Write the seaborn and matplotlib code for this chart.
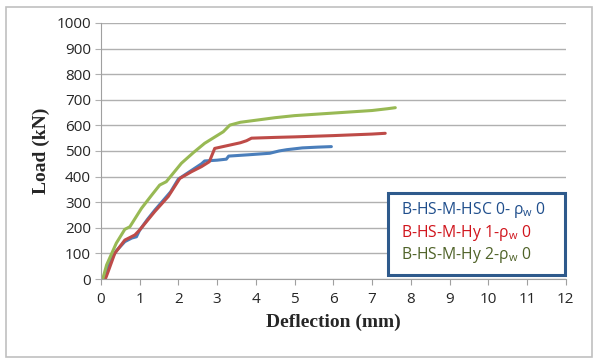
import numpy as np
import pandas as pd
import matplotlib.pyplot as plt
import seaborn as sns
from matplotlib.patches import Rectangle

sns.set_style("white")
plt.rcParams['font.family'] = ['Open Sans', 'DejaVu Sans']

# B-HS-M-HSC 0
hsc_defl = [0.1, 0.15, 0.23, 0.4, 0.62, 0.8, 0.92, 1.0, 1.2, 1.4, 1.6, 1.8, 2.0, 2.3, 2.6, 2.68,
            3.0, 3.24, 3.3, 3.8, 4.36, 4.6, 4.8, 5.2, 5.6, 5.95]
hsc_load = [0, 20, 68, 110, 146, 160, 165, 190, 232, 270, 305, 340, 390, 420, 450, 461,
            464, 468, 480, 485, 491, 500, 505, 512, 515, 517]

# B-HS-M-Hy 1
hy1_defl = [0.1, 0.13, 0.19, 0.36, 0.62, 0.88, 1.0, 1.2, 1.39, 1.74, 2.04, 2.34, 2.6, 2.8,
            2.94, 3.3, 3.6, 3.76, 3.89, 4.5, 5.0, 6.0, 7.0, 7.34]
hy1_load = [0, 5, 29, 100, 152, 172, 191, 228, 263, 322, 393, 419, 439, 458,
            510, 522, 532, 540, 550, 553, 555, 560, 566, 569]

# B-HS-M-Hy 2
hy2_defl = [0.05, 0.15, 0.4, 0.62, 0.75, 1.05, 1.3, 1.52, 1.69, 2.08, 2.4, 2.68, 3.0, 3.16,
            3.33, 3.6, 4.0, 4.5, 5.0, 6.0, 7.0, 7.4, 7.6]
hy2_load = [0, 55, 140, 194, 204, 276, 325, 367, 380, 452, 495, 530, 560, 575,
            601, 612, 620, 630, 638, 648, 658, 665, 669]

labels = [r'B-HS-M-HSC 0- ρ$_\mathregular{w}$ 0',
          r'B-HS-M-Hy 1-ρ$_\mathregular{w}$ 0',
          r'B-HS-M-Hy 2-ρ$_\mathregular{w}$ 0']
line_colors = ['#4a7ebb', '#be4b48', '#98b954']
text_colors = ['#1f4e8c', '#d0141c', '#4f6228']

df = pd.concat([
    pd.DataFrame({'Deflection': hsc_defl, 'Load': hsc_load, 'Beam': labels[0]}),
    pd.DataFrame({'Deflection': hy1_defl, 'Load': hy1_load, 'Beam': labels[1]}),
    pd.DataFrame({'Deflection': hy2_defl, 'Load': hy2_load, 'Beam': labels[2]}),
], ignore_index=True)

W, H = 600, 364
fig = plt.figure(figsize=(W / 100, H / 100), dpi=100)
ax = fig.add_axes([0.168, 0.2335, 0.775, 0.7035])

sns.lineplot(data=df, x='Deflection', y='Load', hue='Beam', palette=line_colors,
             sort=False, estimator=None, linewidth=2.2, ax=ax, legend=False)

ax.set_xlim(0, 12)
ax.set_ylim(0, 1000)
ax.set_xticks(range(0, 13))
ax.set_yticks(range(0, 1001, 100))
ax.yaxis.grid(True, color='#b0b0b0', linewidth=1.0)
ax.xaxis.grid(False)
for s in ['top', 'right']:
    ax.spines[s].set_visible(False)
for s in ['left', 'bottom']:
    ax.spines[s].set_color('#a0a0a0')
ax.tick_params(axis='x', length=4, color='#a0a0a0', labelsize=11, pad=5)
ax.tick_params(axis='y', length=4, color='#b0b0b0', labelsize=11, pad=3)
ax.tick_params(bottom=True, left=True)

ax.set_xlabel('Deflection (mm)', family='Liberation Serif', fontweight='bold', fontsize=14, labelpad=5)
ax.set_ylabel('Load (kN)', family='Liberation Serif', fontweight='bold', fontsize=14, labelpad=5)

# legend box with coloured text only
fig.patches.append(Rectangle((388 / W, 1 - 275 / H), 177 / W, 82 / H, transform=fig.transFigure,
                             facecolor='white', edgecolor='#2e5a8c', linewidth=2.2, zorder=5))
for lab, c, yc in zip(labels, text_colors, [210, 233, 255]):
    fig.text(401 / W, 1 - yc / H, lab, color=c, fontsize=11.3, va='center', ha='left', zorder=6)

fig.patches.append(Rectangle((6 / W, 7 / H), 586 / W, 350 / H, transform=fig.transFigure,
                             fill=False, edgecolor='#c0c0c0', linewidth=1.2))

plt.savefig('out.png', dpi=100)
plt.close()
